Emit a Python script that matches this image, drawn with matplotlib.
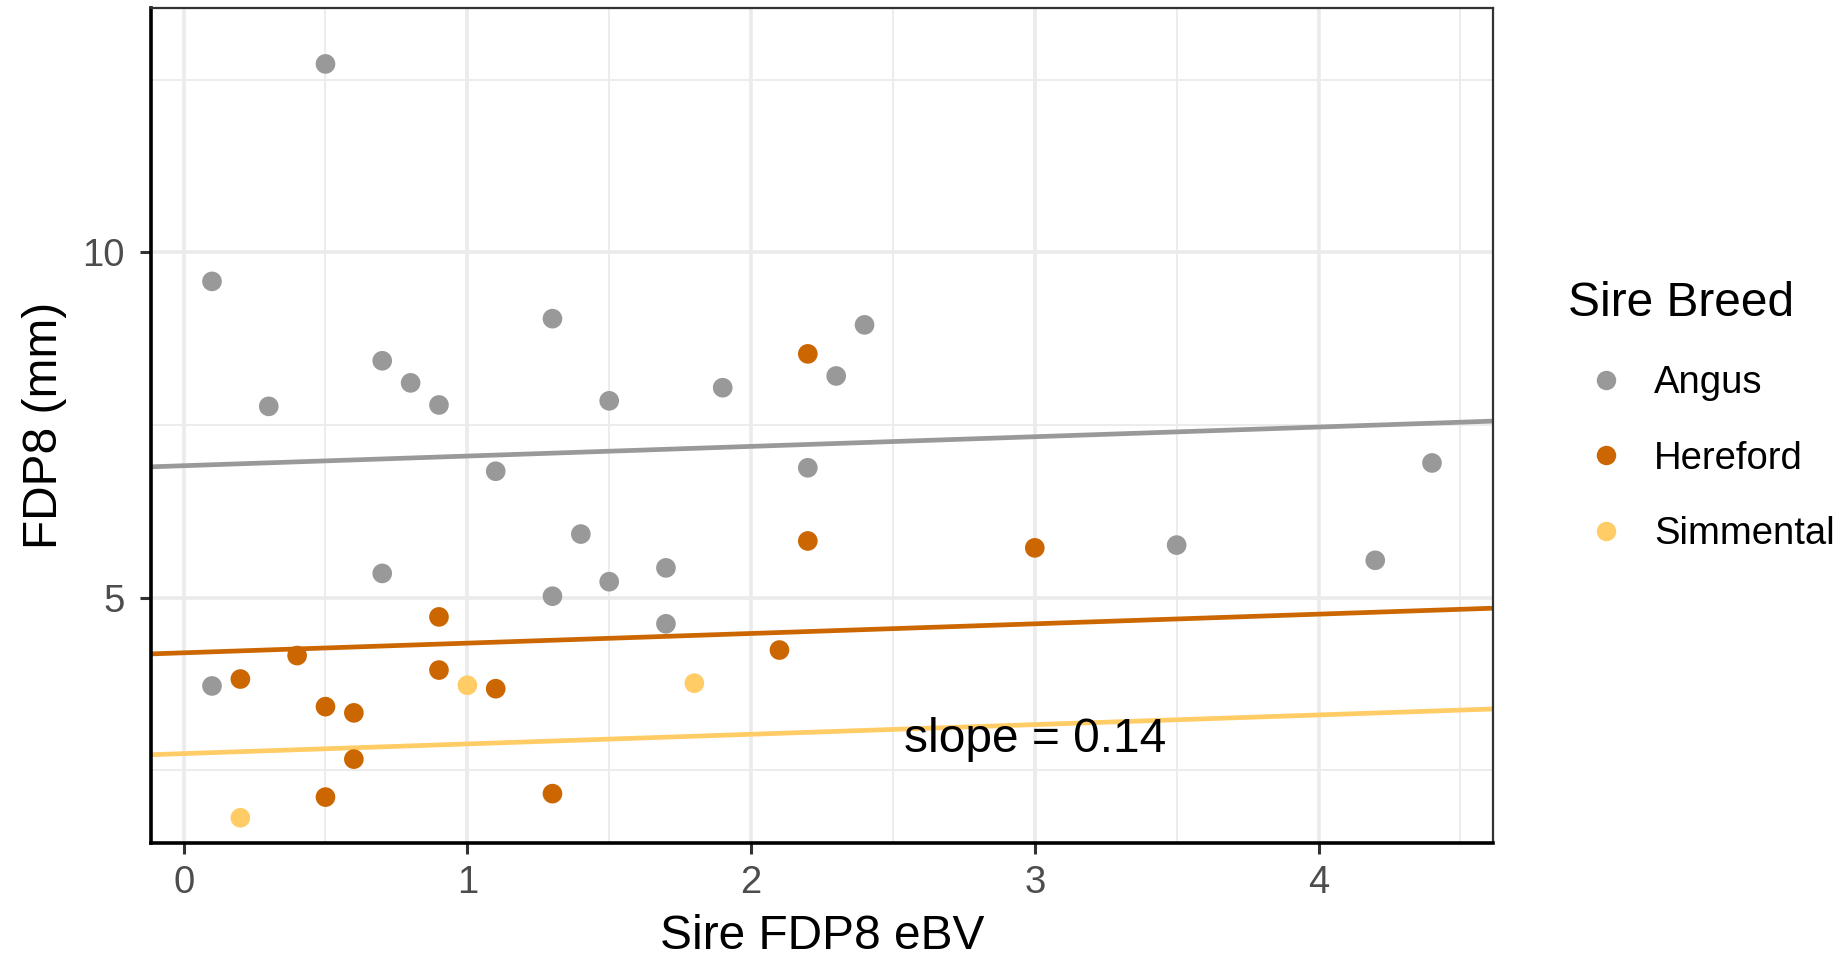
import numpy as np
import matplotlib
matplotlib.use("Agg")
import matplotlib.pyplot as plt
from matplotlib.lines import Line2D

plt.rcParams['font.family'] = ['Liberation Sans', 'DejaVu Sans']

# sire eBV (x) and progeny FDP8 (y) per breed
angus_x = [0.5, 0.1, 0.3, 0.7, 0.8, 0.9, 1.3, 1.5, 1.9, 1.1, 1.4, 0.7, 1.3, 1.5,
           1.7, 1.7, 0.1, 2.3, 2.4, 2.2, 4.4, 3.5, 4.2]
angus_y = [12.73, 9.58, 7.77, 8.43, 8.11, 7.79, 9.04, 7.85, 8.04, 6.83, 5.92, 5.35,
           5.02, 5.23, 5.43, 4.62, 3.72, 8.21, 8.95, 6.88, 6.95, 5.76, 5.54]
hereford_x = [0.9, 0.4, 0.2, 0.9, 1.1, 0.5, 0.6, 0.6, 0.5, 1.3, 2.2, 2.2, 3.0, 2.1]
hereford_y = [4.72, 4.16, 3.82, 3.95, 3.68, 3.42, 3.33, 2.66, 2.11, 2.16, 8.53, 5.82,
              5.72, 4.24]
simmental_x = [1.0, 0.2, 1.8]
simmental_y = [3.73, 1.81, 3.76]

breeds = ['Angus', 'Hereford', 'Simmental']
colors = ['#999999', '#CC6600', '#FFCC66']
# common slope, breed specific intercepts
slope = 0.14
intercepts = [6.91, 4.20, 2.74]

xs = [angus_x, hereford_x, simmental_x]
ys = [angus_y, hereford_y, simmental_y]

fig = plt.figure(figsize=(18.4, 9.6), dpi=100)
ax = fig.add_axes([151 / 1840, 1 - 843 / 960, (1493 - 151) / 1840, (843 - 8) / 960])

xmin, xmax = 0.1, 4.4
xpad = (xmax - xmin) * 0.05
ax.set_xlim(xmin - xpad, xmax + xpad)
ax.set_ylim(1.445, 13.54)

# grid
for v in [0.5, 1.5, 2.5, 3.5, 4.5]:
    ax.axvline(v, color='#EBEBEB', lw=1.3, zorder=0)
for v in [2.5, 7.5, 12.5]:
    ax.axhline(v, color='#EBEBEB', lw=1.3, zorder=0)
for v in [0, 1, 2, 3, 4]:
    ax.axvline(v, color='#EBEBEB', lw=2.6, zorder=0)
for v in [5, 10]:
    ax.axhline(v, color='#EBEBEB', lw=2.6, zorder=0)

xl = np.array(ax.get_xlim())
for c, b in zip(colors, intercepts):
    ax.plot(xl, b + slope * xl, color=c, lw=3.4, zorder=2, solid_capstyle='butt')
for x, y, c, name in zip(xs, ys, colors, breeds):
    ax.scatter(x, y, s=200, color=c, edgecolors='none', zorder=3, label=name)

ax.text(3.0, 2.94, 'slope = %.2f' % slope, fontsize=34.5, ha='center', va='center',
        color='black', zorder=4)

ax.set_xticks([0, 1, 2, 3, 4])
ax.set_yticks([5, 10])
ax.tick_params(axis='both', labelsize=27.5, labelcolor='#4D4D4D', color='#333333',
               width=2.2, length=8)
ax.tick_params(axis='x', pad=8)
ax.tick_params(axis='y', pad=11)

for s in ['top', 'right']:
    ax.spines[s].set_color('#333333')
    ax.spines[s].set_linewidth(1.6)
for s in ['left', 'bottom']:
    ax.spines[s].set_color('black')
    ax.spines[s].set_linewidth(2.6)

ax.set_xlabel('Sire FDP8 eBV', fontsize=34.5, labelpad=9)
ax.set_ylabel('FDP8 (mm)', fontsize=34.5, labelpad=11)

handles = [Line2D([], [], marker='o', ls='none', markersize=14, color=c,
                  markeredgewidth=0) for c in colors]
leg = fig.legend(handles, breeds, title='Sire Breed', loc='upper left',
                 bbox_to_anchor=(1568 / 1840, 1 - 281 / 960), frameon=False,
                 fontsize=27.5, title_fontsize=34.5, handlelength=2.0,
                 handletextpad=0.25, labelspacing=1.03, borderaxespad=0,
                 borderpad=0, alignment='left')

fig.savefig('out.png', dpi=100)
